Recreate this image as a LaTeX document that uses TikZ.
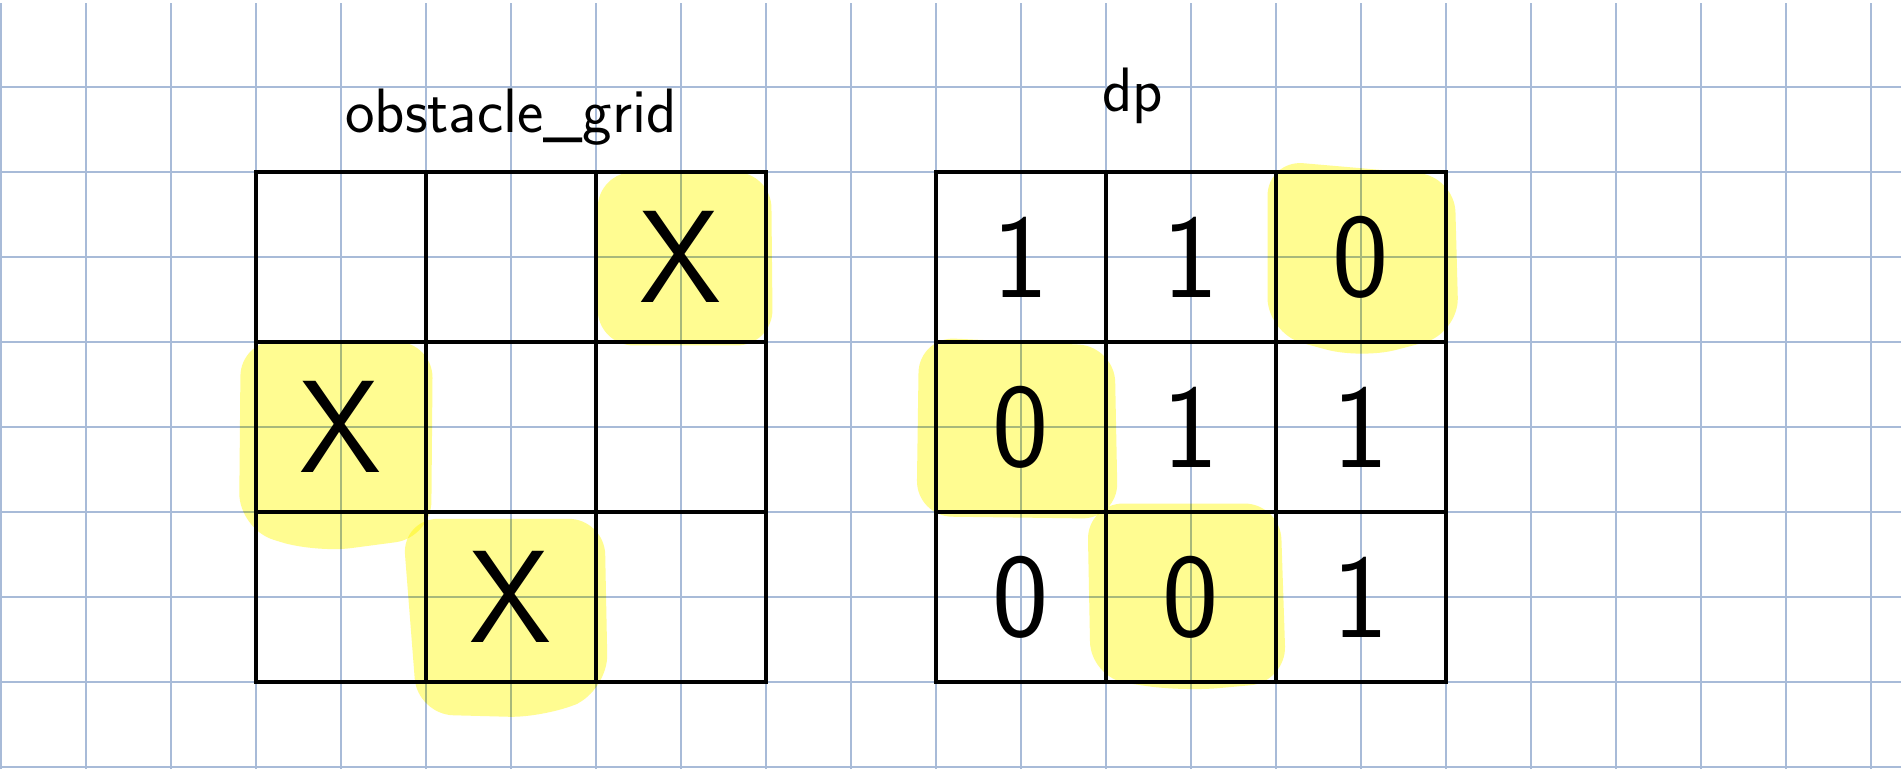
\documentclass[tikz,border=0pt]{standalone}
\usetikzlibrary{positioning}
\definecolor{paperblue}{RGB}{168,187,216}
\definecolor{marker}{RGB}{255,252,145}

\begin{document}
\begin{tikzpicture}[
  paper/.style={draw=paperblue, line width=0.7pt},
  hilite/.style={fill=marker, blend mode=multiply, rounded corners=12pt},
  cell/.style={rectangle, draw, line width=1.4pt, minimum size=2cm, inner sep=0pt},
  xmark/.style={font=\sffamily\fontsize{44}{44}\selectfont},
  digit/.style={font=\sffamily\fontsize{40}{40}\selectfont},
  title/.style={font=\sffamily\fontsize{21}{21}\selectfont, anchor=base}
]
\useasboundingbox (-0.012,-0.024) rectangle (22.353,9.024);
\fill[white] (-0.012,-0.024) rectangle (22.353,9.024);
\draw[paper] (-0.012,-0.024) grid (22.353,8.99);

\fill[hilite] (7.02,7.0) -- (9.06,7.0) -- (9.08,4.96) -- (7.02,4.96) -- cycle;
\fill[hilite] (2.82,5.02) -- (5.08,5.0) -- (5.06,2.7) -- (3.7,2.52) -- (2.8,2.8) -- cycle;
\fill[hilite] (4.72,2.92) -- (7.1,2.92) -- (7.14,0.9) -- (6.4,0.58) -- (4.9,0.62) -- cycle;
\fill[hilite] (14.9,7.14) -- (17.1,6.95) -- (17.15,5.1) -- (16.0,4.8) -- (14.9,5.1) -- cycle;
\fill[hilite] (10.8,5.06) -- (13.1,4.95) -- (13.14,2.92) -- (10.77,2.95) -- cycle;
\fill[hilite] (12.78,3.1) -- (15.05,3.1) -- (15.12,1.0) -- (13.9,0.89) -- (12.82,1.05) -- cycle;

\foreach \r in {1,2,3}
  \foreach \c in {1,2,3} {
    \node[cell] (o-\r-\c) at (2*\c+2, 8-2*\r) {};
    \node[cell] (p-\r-\c) at (2*\c+10, 8-2*\r) {};
  }

\node[title] (obs) at (6,7.46) {obstacle\_grid};
\node[title] (dp) at (13.31,7.71) {dp};

\foreach \r/\c in {1/3, 2/1, 3/2}
  \node[xmark] (x-\r-\c) at (o-\r-\c) {X};

\foreach \r/\c/\v in {1/1/1, 1/2/1, 1/3/0, 2/1/0, 2/2/1, 2/3/1, 3/1/0, 3/2/0, 3/3/1}
  \node[digit] (d-\r-\c) at (p-\r-\c) {\v};
\end{tikzpicture}
\end{document}
